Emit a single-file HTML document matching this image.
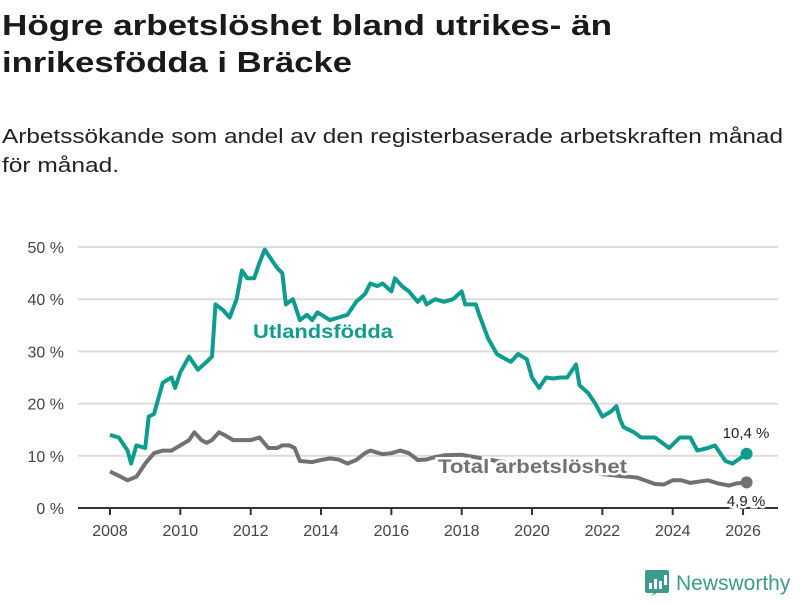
<!DOCTYPE html>
<html><head><meta charset="utf-8"><style>
body{margin:0;background:#fff;width:800px;height:600px;overflow:hidden}
svg text{font-family:"Liberation Sans","DejaVu Sans",sans-serif}
</style></head><body>
<svg id="chart" width="800" height="600" xmlns="http://www.w3.org/2000/svg">
<text x="2" y="35" font-size="29" font-weight="bold" fill="#1a1a1a" textLength="610" lengthAdjust="spacingAndGlyphs">Högre arbetslöshet bland utrikes- än</text>
<text x="2" y="72" font-size="29" font-weight="bold" fill="#1a1a1a" textLength="350" lengthAdjust="spacingAndGlyphs">inrikesfödda i Bräcke</text>
<text x="2" y="143" font-size="20" fill="#222" textLength="781" lengthAdjust="spacingAndGlyphs">Arbetssökande som andel av den registerbaserade arbetskraften månad</text>
<text x="2" y="172" font-size="20" fill="#222" textLength="117" lengthAdjust="spacingAndGlyphs">för månad.</text>
<g id="grid"></g><g id="xaxis"></g><g id="series"></g><g id="labels"></g>
<g>
<rect x="645" y="570" width="24" height="23" rx="2" fill="#3d9a8e"/>
<path d="M651 596 L657 590 L663 590 Z" fill="#3d9a8e"/>
<rect x="649" y="583" width="3" height="6" fill="#fff"/><rect x="654" y="579" width="3" height="10" fill="#fff"/><rect x="659" y="581" width="3" height="8" fill="#fff"/><rect x="664" y="575" width="3" height="10" fill="#fff"/>
<text x="676" y="590" font-size="21" fill="#3d9a8e">Newsworthy</text>
</g>
</svg>
<script>
const yTicks=[0,10,20,30,40,50];
const xTicks=[2008,2010,2012,2014,2016,2018,2020,2022,2024,2026];
const utlT=[2008.0,2008.25,2008.5,2008.6,2008.75,2009.0,2009.1,2009.25,2009.5,2009.75,2009.85,2010.0,2010.25,2010.5,2010.75,2010.9,2011.0,2011.2,2011.4,2011.6,2011.75,2011.9,2012.1,2012.25,2012.4,2012.6,2012.75,2012.9,2013.0,2013.2,2013.4,2013.6,2013.75,2013.9,2014.25,2014.5,2014.75,2015.0,2015.25,2015.4,2015.6,2015.75,2016.0,2016.1,2016.3,2016.5,2016.75,2016.9,2017.0,2017.25,2017.5,2017.75,2018.0,2018.1,2018.4,2018.5,2018.75,2019.0,2019.25,2019.4,2019.6,2019.85,2020.0,2020.2,2020.4,2020.6,2020.8,2021.0,2021.25,2021.35,2021.6,2021.8,2022.0,2022.25,2022.4,2022.5,2022.6,2022.9,2023.1,2023.5,2023.9,2024.2,2024.5,2024.7,2025.0,2025.2,2025.5,2025.7,2026.1];
const utlV=[14,13.5,11,8.5,12,11.5,17.5,18,24,25,23,26,29,26.5,28,29,39,38,36.5,40,45.5,44,44,47,49.5,47.5,46,45,39,40,36,37,36,37.5,36,36.5,37,39.5,41,43,42.5,43,41.5,44,42.5,41.5,39.5,40.5,39,40,39.5,40,41.5,39,39,37,32.5,29.5,28.5,28,29.5,28.5,25,23,25,24.8,25,25,27.5,23.5,22,20,17.5,18.5,19.5,17,15.5,14.5,13.5,13.5,11.5,13.5,13.5,11,11.5,12,9,8.5,10.4];
const totT=[2008.0,2008.3,2008.5,2008.75,2009.0,2009.25,2009.5,2009.75,2010.0,2010.25,2010.4,2010.6,2010.75,2010.9,2011.1,2011.25,2011.5,2011.75,2012.0,2012.25,2012.5,2012.75,2012.9,2013.1,2013.25,2013.4,2013.75,2014.0,2014.25,2014.5,2014.75,2015.0,2015.25,2015.4,2015.75,2016.0,2016.25,2016.5,2016.75,2017.0,2017.2,2017.5,2018.0,2019.0,2020.0,2021.0,2022.0,2022.4,2022.75,2023.0,2023.5,2023.75,2024.0,2024.25,2024.5,2025.0,2025.3,2025.6,2025.8,2026.1];
const totV=[7,6,5.3,6,8.5,10.5,11,11,12,13,14.5,13,12.5,13,14.5,14,13,13,13,13.5,11.5,11.5,12,12,11.5,9,8.8,9.2,9.5,9.3,8.5,9.2,10.5,11,10.3,10.5,11,10.5,9.2,9.3,9.7,10.1,10.2,9,8,7.5,6.5,6.2,6,5.8,4.6,4.5,5.3,5.3,4.8,5.3,4.7,4.3,4.7,4.9];
const NS='http://www.w3.org/2000/svg';
const X=t=>110+(t-2008)*35.17, Y=v=>508-v*5.22;
function mk(tag,attrs,parent){const e=document.createElementNS(NS,tag);for(const k in attrs)e.setAttribute(k,attrs[k]);parent.appendChild(e);return e;}
const grid=document.getElementById('grid');
yTicks.forEach(v=>{
  if(v>0){const l=mk('line',{x1:78,x2:778,y1:Y(v),y2:Y(v),stroke:'#dcdcdc','stroke-width':2},grid);
  
  }
  const t=mk('text',{x:64,y:Y(v)+6,'font-size':16,fill:'#444','text-anchor':'end'},grid);
  
  
  t.textContent=v+' %';
});
const xa=document.getElementById('xaxis');
const ax=mk('line',{x1:78,x2:778,y1:508,y2:508,stroke:'#333','stroke-width':2},xa);


xTicks.forEach(y=>{
  const tk=mk('line',{x1:X(y),x2:X(y),y1:508,y2:515,stroke:'#333','stroke-width':2},xa);
  
  
  const t=mk('text',{x:X(y),y:536,'font-size':16,fill:'#444','text-anchor':'middle'},xa);
  
  
  t.textContent=y;
});
const sg=document.getElementById('series');
function line(T,V,color,name){
  const d=T.map((t,i)=>(i?'L':'M')+X(t).toFixed(1)+' '+Y(V[i]).toFixed(1)).join(' ');
  const p=mk('path',{d:d,fill:'none',stroke:color,'stroke-width':4,'stroke-linejoin':'round'},sg);
  
  
  const n=T.length-1;
  const c=mk('circle',{cx:X(T[n]),cy:Y(V[n]),r:6,fill:color},sg);
  
  
}
line(totT,totV,'#717075','total-line');
line(utlT,utlV,'#0e9c8e','utlandsfodda-line');
const lg=document.getElementById('labels');
function lab(x,y,txt,fill,size,weight,name,anchor,len){
  const a={x:x,y:y,'font-size':size,'font-weight':weight,fill:fill,stroke:'#fff','stroke-width':5,'paint-order':'stroke','text-anchor':anchor||'start'};
  if(len){a.textLength=len;a.lengthAdjust='spacingAndGlyphs';}
  const t=mk('text',a,lg);
  
  
  t.textContent=txt;
}
lab(253,338,'Utlandsfödda','#0e9c8e',19,'bold','utlandsfodda-label','start',140);
lab(438,473,'Total arbetslöshet','#717075',19,'bold','total-label','start',189);
const n1=utlV.length-1,n2=totV.length-1;
lab(746,438,utlV[n1].toString().replace('.',',')+' %','#222',15,'normal','utlandsfodda-end-value','middle');
lab(746,506,totV[n2].toString().replace('.',',')+' %','#222',15,'normal','total-end-value','middle');
</script>
</body></html>
